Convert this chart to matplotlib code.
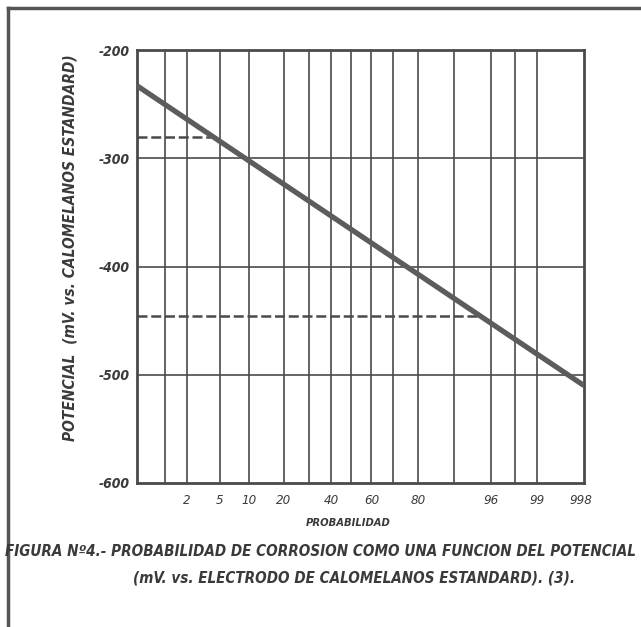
import matplotlib
matplotlib.use("Agg")
import matplotlib.pyplot as plt
from matplotlib.lines import Line2D
import numpy as np
from statistics import NormalDist

# probability (%) tick positions and the labels printed under them
grid_prob = [1, 2, 5, 10, 20, 30, 40, 50, 60, 70, 80, 90, 96, 98, 99]
label_prob = [2, 5, 10, 20, 40, 60, 80, 96, 99, 99.8]
label_text = ["2", "5", "10", "20", "40", "60", "80", "96", "99", "998"]
x_limits = [0.37, 99.82]

# potential axis (mV)
y_ticks = [-200, -300, -400, -500, -600]
y_text = ["-200", "-300", "-400", "-500", "-600"]

# main line and the two dashed read-off lines
line_prob = [0.37, 99.82]
line_mv = [-233, -510]
dash1_prob = [0.37, 4.0]
dash1_mv = [-280, -280]
dash2_prob = [0.37, 95.0]
dash2_mv = [-446, -446]

ink = "#4a4a4a"
txt = "#3a3a3a"
plt.rcParams["axes.unicode_minus"] = False
plt.rcParams["font.family"] = ["DejaVu Sans"]
plt.rcParams["font.stretch"] = "condensed"

_nd = NormalDist()
_ppf = np.vectorize(_nd.inv_cdf, otypes=[float])
_cdf = np.vectorize(_nd.cdf, otypes=[float])


def prob_fwd(p):
    p = np.clip(np.asarray(p, dtype=float) / 100.0, 1e-9, 1 - 1e-9)
    return _ppf(p)


def prob_inv(z):
    return 100.0 * _cdf(np.asarray(z, dtype=float))


fig = plt.figure(figsize=(6.41, 6.27), dpi=100)
ax = fig.add_axes([137 / 641, 1 - 483 / 627, 447 / 641, 433 / 627])
ax.set_xscale("function", functions=(prob_fwd, prob_inv))
ax.set_xlim(x_limits)
ax.set_ylim(-600, -200)

for p in grid_prob:
    ax.axvline(p, color=ink, lw=1.2, zorder=1)
for v in y_ticks[1:-1]:
    ax.axhline(v, color=ink, lw=1.2, zorder=1)

ax.plot(line_prob, line_mv, color="#5c5c5c", lw=3.8, solid_capstyle="butt", zorder=3)
ax.plot(dash1_prob, dash1_mv, color=ink, lw=1.8, ls=(0, (4, 1.5)), zorder=2)
ax.plot(dash2_prob, dash2_mv, color=ink, lw=1.8, ls=(0, (4, 1.5)), zorder=2)

ax.set_xticks(label_prob)
ax.set_xticklabels(label_text, fontsize=9.5, style="italic", color=txt)
ax.set_yticks(y_ticks)
ax.set_yticklabels(y_text, fontsize=10, style="italic", weight="bold", color=txt)
ax.tick_params(axis="both", length=0)
ax.tick_params(axis="x", pad=8)
ax.tick_params(axis="y", pad=5)
ax.minorticks_off()
for s in ax.spines.values():
    s.set_color(ink)
    s.set_linewidth(2)

fig.text(348 / 641, 1 - 523 / 627, "PROBABILIDAD", fontsize=8, style="italic",
         weight="bold", color=txt, ha="center", va="center")
fig.text(70 / 641, 1 - 248 / 627, "POTENCIAL  (mV. vs. CALOMELANOS ESTANDARD)",
         rotation=90, fontsize=11.1, style="italic", weight="bold", color=txt,
         ha="center", va="center")
fig.text(5 / 641, 1 - 552 / 627,
         "FIGURA N\u00ba4.- PROBABILIDAD DE CORROSION COMO UNA FUNCION DEL POTENCIAL",
         fontsize=10.9, style="italic", weight="bold", color=txt, ha="left", va="center")
fig.text(133 / 641, 1 - 578 / 627,
         "(mV. vs. ELECTRODO DE CALOMELANOS ESTANDARD). (3).",
         fontsize=10.9, style="italic", weight="bold", color=txt, ha="left", va="center")

# outer frame of the scanned page
fig.add_artist(Line2D([8 / 641, 8 / 641], [0, 1 - 8 / 627], color="#555555", lw=2.5))
fig.add_artist(Line2D([8 / 641, 1], [1 - 8 / 627, 1 - 8 / 627], color="#555555", lw=2.5))

fig.savefig("out.png", dpi=100)
